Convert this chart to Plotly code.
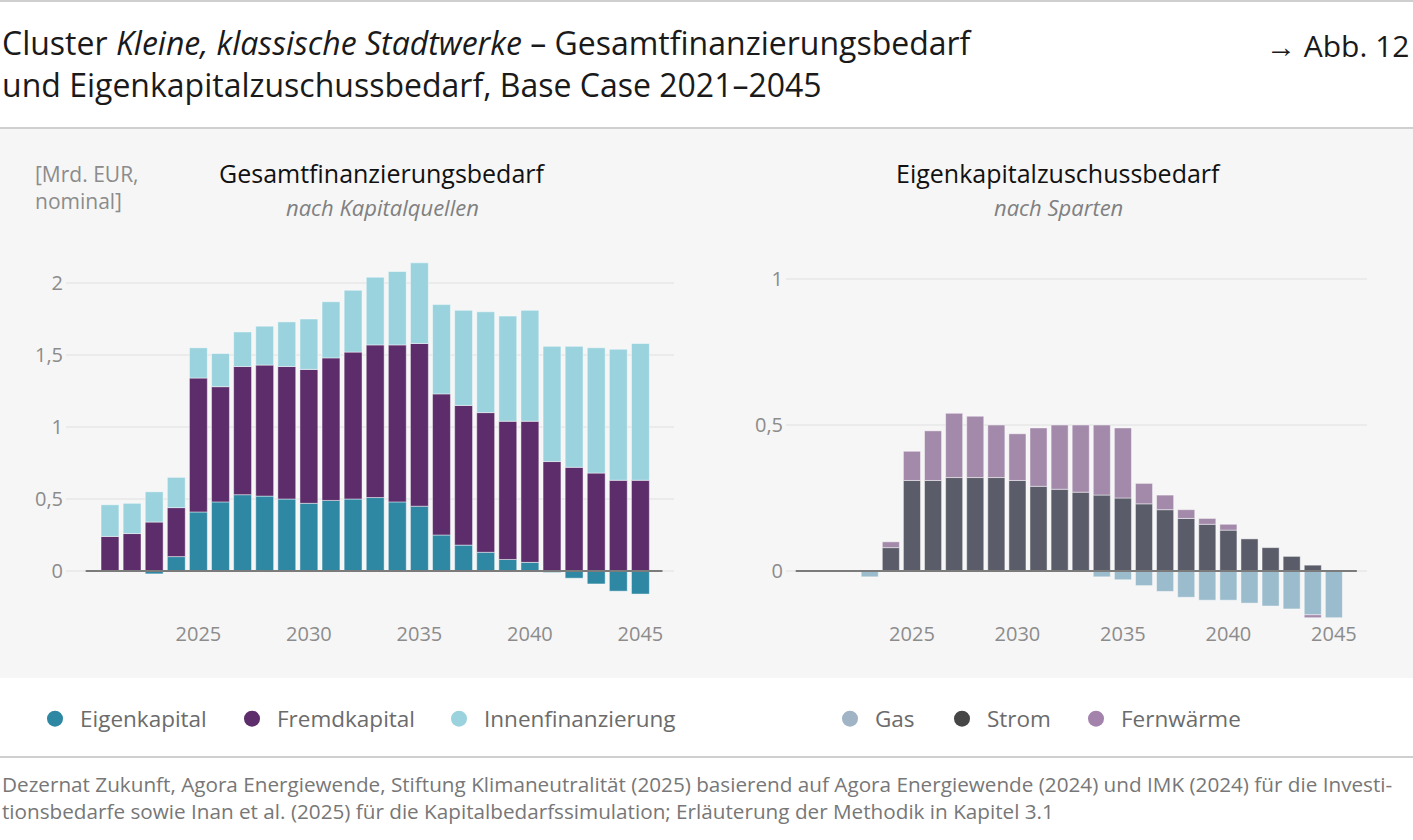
import plotly.graph_objects as go

years = list(range(2021, 2046))

# Gesamtfinanzierungsbedarf nach Kapitalquellen [Mrd. EUR]
eigenkapital = [0.0, 0.0, -0.02, 0.10, 0.41, 0.48, 0.53, 0.52, 0.50, 0.47, 0.49, 0.50, 0.51,
                0.48, 0.45, 0.25, 0.18, 0.13, 0.08, 0.06, -0.01, -0.05, -0.09, -0.14, -0.16]
fremdkapital = [0.24, 0.26, 0.34, 0.34, 0.93, 0.80, 0.89, 0.91, 0.92, 0.93, 0.99, 1.02, 1.06,
                1.09, 1.13, 0.98, 0.97, 0.97, 0.96, 0.98, 0.76, 0.72, 0.68, 0.63, 0.63]
innenfinanzierung = [0.22, 0.21, 0.21, 0.21, 0.21, 0.23, 0.24, 0.27, 0.31, 0.35, 0.39, 0.43, 0.47,
                     0.51, 0.56, 0.62, 0.66, 0.70, 0.73, 0.77, 0.80, 0.84, 0.87, 0.91, 0.95]

# Eigenkapitalzuschussbedarf nach Sparten [Mrd. EUR]
gas = [0, 0, -0.02, 0, 0, 0, 0, 0, 0, 0, 0, 0, 0,
       -0.02, -0.03, -0.05, -0.07, -0.09, -0.10, -0.10, -0.11, -0.12, -0.13, -0.15, -0.16]
strom = [0, 0, 0, 0.08, 0.31, 0.31, 0.32, 0.32, 0.32, 0.31, 0.29, 0.28, 0.27,
         0.26, 0.25, 0.23, 0.21, 0.18, 0.16, 0.14, 0.11, 0.08, 0.05, 0.02, 0]
fernwaerme = [0, 0, 0, 0.02, 0.10, 0.17, 0.22, 0.21, 0.18, 0.16, 0.20, 0.22, 0.23,
              0.24, 0.24, 0.07, 0.05, 0.03, 0.02, 0.02, 0, 0, 0, -0.01, 0]

left_ticks = [0, 0.5, 1, 1.5, 2]
right_ticks = [0, 0.5, 1]
x_ticks = [2025, 2030, 2035, 2040, 2045]

FONT = "'Open Sans', 'Noto Sans', sans-serif"
W, H = 1413, 840


def nz(vals):
    return [v if v != 0 else None for v in vals]


def px(x):
    return x / W


def py(y):
    return 1 - y / H


fig = go.Figure()

bar_line = dict(color="rgba(255,255,255,0.45)", width=1)

left_series = [
    ("Eigenkapital", eigenkapital, "#2e87a3", "#2e87a3"),
    ("Fremdkapital", fremdkapital, "#5c2d6a", "#5c2d6a"),
    ("Innenfinanzierung", innenfinanzierung, "#9ad3de", "#9ad3de"),
]
right_series = [
    ("Gas", gas, "#9bbccc", "#a0b4c6"),
    ("Strom", strom, "#5a5c69", "#464646"),
    ("Fernwärme", fernwaerme, "#a38aab", "#a383ab"),
]

for name, vals, col, _ in left_series:
    fig.add_trace(go.Bar(x=years, y=nz(vals), name=name, marker=dict(color=col, line=bar_line),
                         xaxis="x", yaxis="y", showlegend=False, hoverinfo="x+y+name"))
for name, vals, col, _ in right_series:
    fig.add_trace(go.Bar(x=years, y=nz(vals), name=name, marker=dict(color=col, line=bar_line),
                         xaxis="x2", yaxis="y2", showlegend=False, hoverinfo="x+y+name"))

# legend entries (circle symbols), one legend per entry for exact placement
legend_pos = [55, 252, 459, 850, 962, 1096]
legend_cols = [s[3] for s in left_series] + [s[3] for s in right_series]
legend_names = [s[0] for s in left_series] + [s[0] for s in right_series]
legend_layouts = {}
for i, (name, col, cx) in enumerate(zip(legend_names, legend_cols, legend_pos)):
    key = "legend" if i == 0 else f"legend{i + 1}"
    fig.add_trace(go.Scatter(x=[None], y=[None], mode="markers", name=name,
                             marker=dict(color=col, size=20, symbol="circle"),
                             legend=key, showlegend=True, xaxis="x", yaxis="y"))
    legend_layouts[key] = dict(
        x=px(cx - 25), y=py(719), xanchor="left", yanchor="middle",
        orientation="h", bgcolor="rgba(0,0,0,0)", borderwidth=0, itemwidth=40,
        font=dict(family=FONT, size=22.5, color="#6b6b6b"),
    )

axis_font = dict(family=FONT, size=20, color="#8c8c8c")
grid = dict(showgrid=True, gridcolor="#ebebeb", gridwidth=2, zeroline=False)

y_top, y_bot = 250, 620
left_dom = [px(66), px(674)]
right_dom = [px(786), px(1367)]
y_dom = [py(y_bot), py(y_top)]

fig.update_layout(
    width=W, height=H,
    margin=dict(l=0, r=0, t=0, b=0),
    paper_bgcolor="white",
    plot_bgcolor="rgba(0,0,0,0)",
    barmode="relative",
    bargap=0.19,
    separators=",.",
    font=dict(family=FONT),
    xaxis=dict(domain=left_dom, range=[2019.01, 2046.52], tickvals=x_ticks,
               showgrid=False, zeroline=False, showline=False, ticks="",
               tickfont=axis_font, fixedrange=True),
    yaxis=dict(domain=y_dom, range=[-(y_bot - 571) / 144, (571 - y_top) / 144],
               tickvals=left_ticks, tickfont=axis_font, ticklabelstandoff=2,
               showline=False, fixedrange=True, **grid),
    xaxis2=dict(domain=right_dom, range=[2019.03, 2046.57], tickvals=x_ticks,
                showgrid=False, zeroline=False, showline=False, ticks="",
                tickfont=axis_font, anchor="y2", fixedrange=True),
    yaxis2=dict(domain=y_dom, range=[-(y_bot - 571) / 292, (571 - y_top) / 292],
                tickvals=right_ticks, tickfont=axis_font, anchor="x2", ticklabelstandoff=2,
                showline=False, fixedrange=True, **grid),
    **legend_layouts,
)

shapes = [
    # grey panel
    dict(type="rect", xref="paper", yref="paper", x0=0, x1=1, y0=py(678), y1=py(129),
         fillcolor="#f6f6f6", line=dict(width=0), layer="below"),
    # separator lines
    dict(type="line", xref="paper", yref="paper", x0=0, x1=1, y0=py(1), y1=py(1),
         line=dict(color="#cfcfcf", width=2)),
    dict(type="line", xref="paper", yref="paper", x0=0, x1=1, y0=py(128), y1=py(128),
         line=dict(color="#cfcfcf", width=2)),
    dict(type="line", xref="paper", yref="paper", x0=0, x1=1, y0=py(757), y1=py(757),
         line=dict(color="#cfcfcf", width=2)),
    # zero baselines
    dict(type="line", xref="x", yref="y", x0=2019.9, x1=2046.0, y0=0, y1=0,
         line=dict(color="#7b7b7b", width=2)),
    dict(type="line", xref="x2", yref="y2", x0=2019.49, x1=2046.09, y0=0, y1=0,
         line=dict(color="#7b7b7b", width=2)),
]
fig.update_layout(shapes=shapes)

ann = []
ann.append(dict(text="Cluster <i>Kleine, klassische Stadtwerke</i> – Gesamtfinanzierungsbedarf<br>"
                     "und Eigenkapitalzuschussbedarf, Base Case 2021–2045",
                x=px(0), y=py(64), xanchor="left", yanchor="middle", align="left",
                font=dict(family=FONT, size=32, color="#1a1a1a")))
ann.append(dict(text="→ Abb. 12", x=px(1411), y=py(45), xanchor="right", yanchor="middle",
                font=dict(family=FONT, size=30, color="#1a1a1a")))
ann.append(dict(text="[Mrd. EUR,<br>nominal]", x=px(33), y=py(187), xanchor="left", yanchor="middle",
                align="left", font=dict(family=FONT, size=21, color="#8c8c8c")))
ann.append(dict(text="Gesamtfinanzierungsbedarf", x=px(382), y=py(173), xanchor="center",
                yanchor="middle", font=dict(family=FONT, size=25, color="#111111")))
ann.append(dict(text="<i>nach Kapitalquellen</i>", x=px(382), y=py(207), xanchor="center",
                yanchor="middle", font=dict(family=FONT, size=22, color="#808080")))
ann.append(dict(text="Eigenkapitalzuschussbedarf", x=px(1058), y=py(173), xanchor="center",
                yanchor="middle", font=dict(family=FONT, size=25, color="#111111")))
ann.append(dict(text="<i>nach Sparten</i>", x=px(1058), y=py(207), xanchor="center",
                yanchor="middle", font=dict(family=FONT, size=22, color="#808080")))
ann.append(dict(text="Dezernat Zukunft, Agora Energiewende, Stiftung Klimaneutralität (2025) basierend auf "
                     "Agora Energiewende (2024) und IMK (2024) für die Investi-<br>"
                     "tionsbedarfe sowie Inan et al. (2025) für die Kapitalbedarfssimulation; "
                     "Erläuterung der Methodik in Kapitel 3.1",
                x=px(0), y=py(797), xanchor="left", yanchor="middle", align="left",
                font=dict(family=FONT, size=20.7, color="#777777")))
for a in ann:
    a.update(xref="paper", yref="paper", showarrow=False)
fig.update_layout(annotations=ann)

fig.write_html("out.html", config={"displayModeBar": False},
               post_script="document.body.style.margin='0';document.body.style.padding='0';")
